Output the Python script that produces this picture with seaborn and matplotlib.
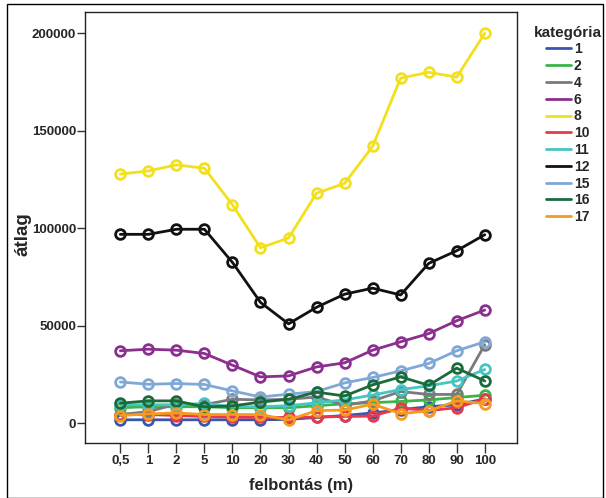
import matplotlib
matplotlib.use("Agg")
import matplotlib.pyplot as plt
from matplotlib.lines import Line2D
from matplotlib.patches import Rectangle
import pandas as pd
import seaborn as sns

# x categories (felbontás, m)
felbontas = ["0,5", "1", "2", "5", "10", "20", "30", "40", "50", "60", "70", "80", "90", "100"]
kategoriak = ["1", "2", "4", "6", "8", "10", "11", "12", "15", "16", "17"]

# mean values per category
k1 = [1800, 1800, 1800, 1800, 1800, 1800, 2000, 3000, 4000, 5300, 7000, 8500, 9500, 12500]
k2 = [8000, 8500, 8500, 8500, 8000, 8000, 8000, 9000, 10000, 10600, 11200, 12000, 13200, 14400]
k4 = [4500, 6000, 9800, 9600, 12300, 12000, 12300, 13500, 9200, 11500, 16300, 14800, 14800, 40300]
k6 = [37200, 38000, 37500, 35800, 29800, 23800, 24300, 28900, 31000, 37500, 41800, 46000, 52600, 58100]
k8 = [127800, 129400, 132500, 130800, 112000, 90000, 95000, 118000, 123000, 142000, 177000, 180000, 177500, 200000]
k10 = [4500, 4500, 4000, 3500, 3200, 3000, 3000, 3200, 3500, 3700, 7800, 6500, 8000, 12500]
k11 = [9500, 9500, 9500, 10200, 8500, 8500, 9000, 10500, 12000, 14500, 17300, 19200, 21700, 27600]
k12 = [96900, 96900, 99500, 99500, 82500, 62000, 51000, 59500, 66200, 69300, 65800, 82000, 88500, 96700]
k15 = [21200, 20000, 20400, 19900, 16600, 13500, 14900, 16300, 20700, 23500, 26900, 30700, 37200, 41800]
k16 = [10300, 11500, 11500, 8400, 8900, 10900, 12300, 16000, 14000, 19700, 23800, 19500, 28300, 21700]
k17 = [4000, 4800, 5300, 4500, 4500, 4500, 1700, 6500, 6800, 9800, 5000, 6300, 11500, 10100]

series = [k1, k2, k4, k6, k8, k10, k11, k12, k15, k16, k17]
colors = ["#3b55a8", "#3ab54a", "#7a7a7a", "#8b2f8f", "#f2e01f", "#e8394c",
          "#47c4c2", "#111111", "#7fa8d6", "#1a6a3a", "#f49b20"]
palette = dict(zip(kategoriak, colors))

rows = []
for kat, vals in zip(kategoriak, series):
    for i, v in enumerate(vals):
        rows.append({"kategória": kat, "pos": i, "átlag": v})
df = pd.DataFrame(rows)

sns.set_style("white")
plt.rcParams["font.family"] = ["Liberation Sans", "DejaVu Sans"]

fig = plt.figure(figsize=(6.06, 4.98), dpi=100)
ax = fig.add_axes([85 / 606, 1 - 443 / 498, (517 - 85) / 606, (443 - 12) / 498])

sns.lineplot(data=df, x="pos", y="átlag", hue="kategória", hue_order=kategoriak,
             palette=palette, marker="o", markersize=7, markerfacecolor="none",
             markeredgewidth=2, linewidth=2, ax=ax, legend=False)
for ln in ax.lines:
    ln.set_markeredgecolor(ln.get_color())

ax.set_xlim(-1.26, 14.15)
ax.set_ylim(-10100, 210900)
ax.set_xticks(range(len(felbontas)))
ax.set_xticklabels(felbontas)
ax.set_yticks([0, 50000, 100000, 150000, 200000])
ax.set_yticklabels(["0", "50000", "100000", "150000", "200000"])
ax.tick_params(axis="y", direction="out", length=6, width=1, color="#333333",
               labelsize=9.5, pad=0.5, left=True)
ax.tick_params(axis="x", direction="out", length=7, width=1, color="#333333",
               labelsize=9.5, pad=1.5, bottom=True)
for lbl in ax.get_xticklabels() + ax.get_yticklabels():
    lbl.set_fontweight("bold")
for sp in ax.spines.values():
    sp.set_color("#222222")
    sp.set_linewidth(1)

ax.set_xlabel("felbontás (m)", fontsize=12, fontweight="bold", labelpad=8)
ax.set_ylabel("")
fig.text(23 / 606, 1 - 234 / 498, "átlag", rotation=90, fontsize=13.5,
         fontweight="bold", ha="center", va="center")

handles = [Line2D([], [], color=c, linewidth=2) for c in colors]
leg = fig.legend(handles, kategoriak, title="kategória", loc="upper left",
                 bbox_to_anchor=(521 / 606, 1 - 13 / 498), frameon=False,
                 handlelength=1.8, handletextpad=0.2, labelspacing=0.2,
                 prop={"weight": "bold", "size": 10},
                 title_fontproperties={"weight": "bold", "size": 11})
leg._legend_box.align = "center"

fig.patches.append(Rectangle((7 / 606, 0), (603 - 7) / 606, 1 - 4 / 498,
                             transform=fig.transFigure, fill=False,
                             edgecolor="black", linewidth=1))

fig.savefig("out.png", dpi=100)
